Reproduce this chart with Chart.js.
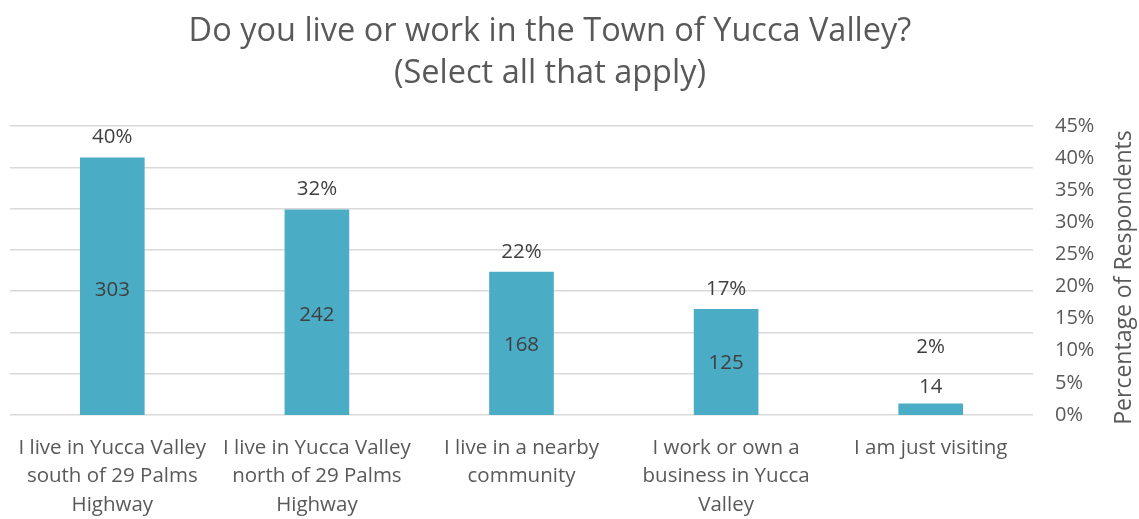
<!DOCTYPE html>
<html>
<head>
<meta charset="utf-8">
<script src="https://cdn.jsdelivr.net/npm/chart.js@4/dist/chart.umd.min.js"></script>
<style>
  html, body { margin: 0; padding: 0; background: #fff; }
  #wrap { position: relative; width: 1139px; height: 519px; }
  #title {
    position: absolute; top: 8px; left: 0; width: 1100px;
    text-align: center; font-family: "Open Sans", sans-serif;
    font-size: 32.5px; line-height: 42px; color: #595959;
  }
</style>
</head>
<body>
<div id="wrap">
  <canvas id="chart" width="1139" height="519"></canvas>
  <div id="title">Do you live or work in the Town of Yucca Valley?<br>(Select all that apply)</div>
</div>
<script>
// values
const categories = [
  ['I live in Yucca Valley', 'south of 29 Palms', 'Highway'],
  ['I live in Yucca Valley', 'north of 29 Palms', 'Highway'],
  ['I live in a nearby', 'community'],
  ['I work or own a', 'business in Yucca', 'Valley'],
  ['I am just visiting']
];
const counts = [303, 242, 168, 125, 14];
const percents = [40.1, 32.0, 22.3, 16.5, 1.8];
const pctTicks = [0, 5, 10, 15, 20, 25, 30, 35, 40, 45];

const FONT = '"Open Sans", sans-serif';
const GREY = '#595959';
const AXIS_TITLE = 'Percentage of Respondents';

// % label above each bar, count inside it (at half its value on the
// hidden count axis). Tiny bars get both labels stacked above.
const barLabels = {
  id: 'barLabels',
  afterDatasetsDraw(chart) {
    const ctx = chart.ctx;
    const meta = chart.getDatasetMeta(0);
    const countAxis = chart.scales.y;
    ctx.save();
    ctx.font = '20.5px ' + FONT;
    ctx.fillStyle = '#404040';
    ctx.textAlign = 'center';
    ctx.textBaseline = 'middle';
    meta.data.forEach((bar, i) => {
      const small = bar.base - bar.y < 30;
      let cy = countAxis.getPixelForValue(counts[i] / 2);
      let py = bar.y - 20;
      if (small) {
        cy = bar.y - 16;
        py = bar.y - 56;
      }
      ctx.fillText(String(counts[i]), bar.x, cy);
      ctx.fillText(Math.round(percents[i]) + '%', bar.x, py);
    });
    ctx.restore();
  }
};

// right axis title reads bottom-to-top in the original, Chart.js turns it
// the other way on a right axis, so draw it ourselves
const sideTitle = {
  id: 'sideTitle',
  afterDraw(chart) {
    const ctx = chart.ctx;
    const a = chart.chartArea;
    ctx.save();
    ctx.translate(chart.width - 15, (a.top + a.bottom) / 2 + 7);
    ctx.rotate(-Math.PI / 2);
    ctx.font = '23px ' + FONT;
    ctx.fillStyle = GREY;
    ctx.textAlign = 'center';
    ctx.textBaseline = 'middle';
    ctx.fillText(AXIS_TITLE, 0, 0);
    ctx.restore();
  }
};

new Chart(document.getElementById('chart'), {
  type: 'bar',
  data: {
    labels: categories,
    datasets: [{
      label: AXIS_TITLE,
      data: percents,
      yAxisID: 'pct',
      backgroundColor: '#4BACC6',
      categoryPercentage: 1,
      barPercentage: 0.316
    }]
  },
  options: {
    responsive: false,
    animation: false,
    layout: { padding: { top: 126, left: 10, right: 0, bottom: 0 } },
    plugins: {
      legend: { display: false },
      tooltip: { enabled: false },
      title: { display: false }
    },
    scales: {
      x: {
        grid: { display: false },
        border: { display: false },
        afterFit: (s) => { s.height = 104; },
        ticks: {
          color: GREY,
          font: { family: FONT, size: 20.5, lineHeight: 1.38 },
          maxRotation: 0,
          autoSkip: false,
          padding: 11
        }
      },
      y: {
        position: 'left',
        min: 0,
        max: 350,
        ticks: { display: false, stepSize: 50 },
        grid: { color: '#d9d9d9', lineWidth: 1.5, drawTicks: false },
        border: { display: false },
        afterFit: (s) => { s.width = 0; }
      },
      pct: {
        position: 'right',
        min: 0,
        max: 45,
        afterBuildTicks: (s) => { s.ticks = pctTicks.map((v) => ({ value: v })); },
        afterFit: (s) => { s.width = 106; },
        ticks: {
          color: GREY,
          font: { family: FONT, size: 20 },
          padding: 22,
          callback: (v) => v + '%'
        },
        grid: { display: false, drawTicks: false },
        border: { display: false }
      }
    }
  },
  plugins: [barLabels, sideTitle]
});
</script>
</body>
</html>
